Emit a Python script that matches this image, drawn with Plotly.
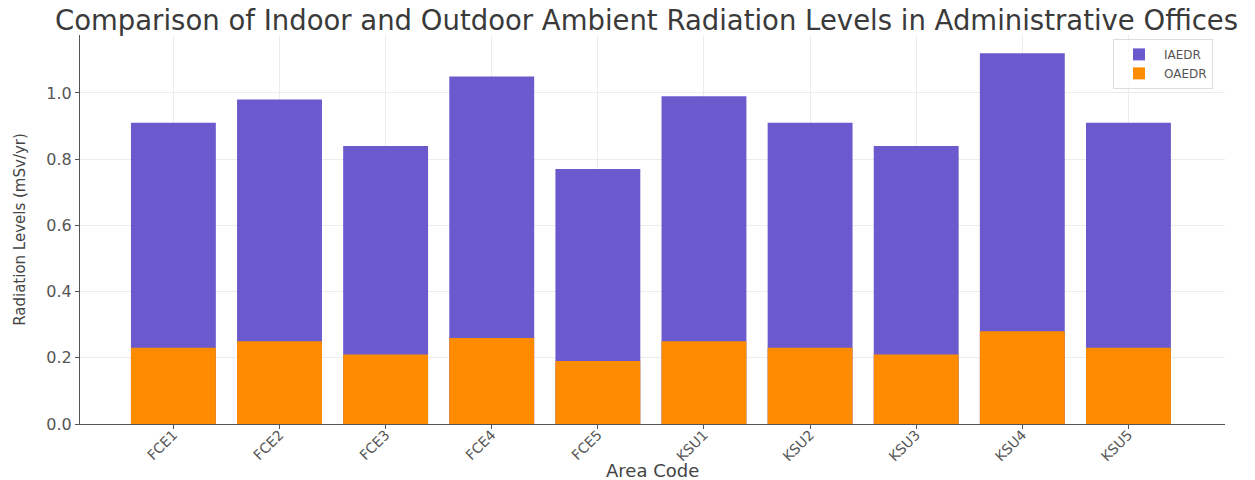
import plotly.graph_objects as go

area_codes = ["FCE1", "FCE2", "FCE3", "FCE4", "FCE5", "KSU1", "KSU2", "KSU3", "KSU4", "KSU5"]
iaedr = [0.91, 0.98, 0.84, 1.05, 0.77, 0.99, 0.91, 0.84, 1.12, 0.91]
oaedr = [0.23, 0.25, 0.21, 0.26, 0.19, 0.25, 0.23, 0.21, 0.28, 0.23]
y_ticks = [0.0, 0.2, 0.4, 0.6, 0.8, 1.0]

FONT = "DejaVu Sans"

fig = go.Figure()
fig.add_trace(go.Bar(x=area_codes, y=iaedr, name="IAEDR", width=0.8,
                     marker=dict(color="#6a5acd", line=dict(width=0))))
fig.add_trace(go.Bar(x=area_codes, y=oaedr, name="OAEDR", width=0.8,
                     marker=dict(color="#ff8c00", line=dict(width=0))))

fig.update_layout(
    width=1255, height=480,
    barmode="overlay",
    paper_bgcolor="white", plot_bgcolor="white",
    margin=dict(l=80, r=30, t=35, b=56),
    font=dict(family=FONT, color="#444"),
    title=dict(text="Comparison of Indoor and Outdoor Ambient Radiation Levels in Administrative Offices",
               x=55 / 1255, xanchor="left", xref="container", y=1 - 20 / 480, yanchor="middle",
               yref="container",
               font=dict(family=FONT, size=27.5, color="#3a3a3a")),
    xaxis=dict(
        type="category", range=[-0.88, 9.91], automargin=False,
        showline=True, linecolor="#555", linewidth=1.2,
        showgrid=True, gridcolor="#ececec", gridwidth=1,
        ticks="outside", ticklen=4, tickcolor="#555",
        tickangle=-45, tickfont=dict(size=14, color="#555"),
        ticklabelstandoff=-8,
    ),
    yaxis=dict(
        range=[0, 1.175], tickvals=y_ticks, ticktext=[f"{v:.1f}" for v in y_ticks],
        automargin=False,
        showline=True, linecolor="#555", linewidth=1.2,
        showgrid=True, gridcolor="#ececec", gridwidth=1, zeroline=False,
        ticks="outside", ticklen=4, tickcolor="#555",
        tickfont=dict(size=16, color="#555"),
        title=dict(text="Radiation Levels (mSv/yr)", font=dict(size=15, color="#444"), standoff=16),
    ),
    legend=dict(x=0.9895, y=0.99, xanchor="right", yanchor="top",
                bgcolor="rgba(255,255,255,0.85)", bordercolor="#dddddd", borderwidth=1,
                font=dict(size=12, color="#555"), traceorder="normal", itemwidth=40,
                tracegroupgap=0),
    showlegend=True,
    annotations=[dict(text="Area Code", x=0.5, xref="paper",
                      y=-(470 - 424) / (424 - 35), yref="paper",
                      yanchor="middle", xanchor="center", showarrow=False,
                      font=dict(size=18, color="#444"))],
)

fig.write_html("out.html")
